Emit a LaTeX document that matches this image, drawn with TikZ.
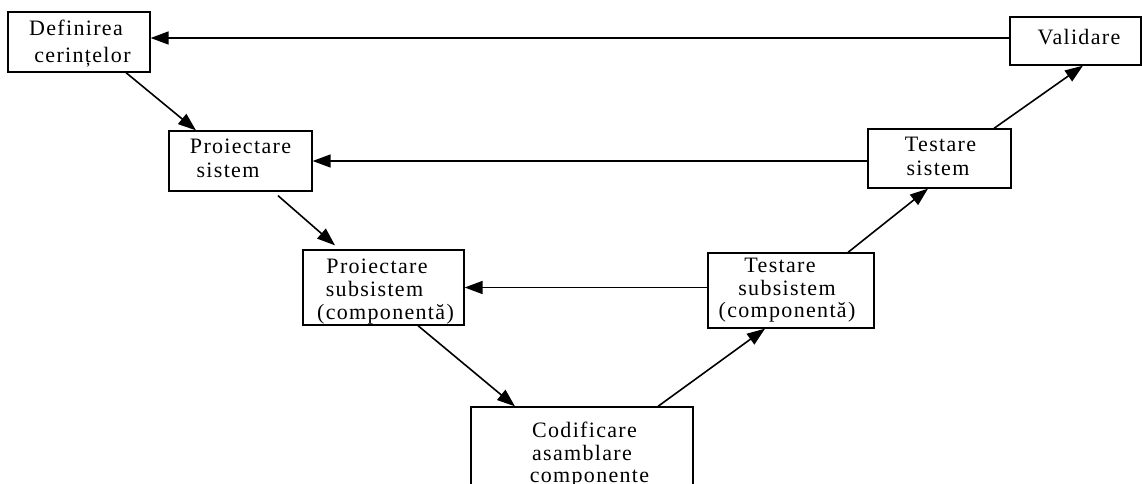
\documentclass[tikz,border=0pt]{standalone}
\usepackage{fontspec}
\setmainfont{Liberation Serif}[LetterSpace=6]
\usetikzlibrary{arrows.meta}
\begin{document}
\begin{tikzpicture}[x=1pt,y=-1pt,
  stage/.style={draw,line width=1.3pt,rectangle,inner sep=0pt},
  txt/.style={anchor=base,inner sep=0pt,font=\fontsize{22}{24}\selectfont},
  arr/.style={line width=1.6pt,-{Triangle[length=18pt,width=13pt]}}]
\useasboundingbox (0,0) rectangle (1142,484);
\clip (0,0) rectangle (1142,484);
% frames of the stages
\node[stage,minimum width=142pt,minimum height=60pt] (defin) at (79,42) {};
\node[stage,minimum width=131pt,minimum height=48pt] (valid) at (1075.5,41) {};
\node[stage,minimum width=143pt,minimum height=60pt] (psys) at (240.5,161) {};
\node[stage,minimum width=143pt,minimum height=59pt] (tsys) at (939.5,158.5) {};
\node[stage,minimum width=161pt,minimum height=75pt] (psub) at (383.5,287.5) {};
\node[stage,minimum width=166pt,minimum height=75pt] (tsub) at (791,290.5) {};
\node[stage,minimum width=222pt,minimum height=98pt] (codif) at (582,456) {};
% stage names, one line at a time
\node[txt] (defin-1) at (76,36) {Definirea};
\node[txt] (defin-2) at (82.5,63) {cerințelor};
\node[txt] (valid-1) at (1079,45) {Validare};
\node[txt] (psys-1) at (240.5,153) {Proiectare};
\node[txt] (psys-2) at (228,177) {sistem};
\node[txt] (tsys-1) at (940.5,151) {Testare};
\node[txt] (tsys-2) at (938,175) {sistem};
\node[txt] (psub-1) at (377,273) {Proiectare};
\node[txt] (psub-2) at (374.5,296) {subsistem};
\node[txt] (psub-3) at (385.5,319) {(componentă)};
\node[txt] (tsub-1) at (780,272) {Testare};
\node[txt] (tsub-2) at (787,295) {subsistem};
\node[txt] (tsub-3) at (787,317) {(componentă)};
\node[txt] (codif-1) at (584.5,437) {Codificare};
\node[txt] (codif-2) at (582,460) {asamblare};
\node[txt] (codif-3) at (589.5,482) {componente};
% descending branch
\draw[arr] ([xshift=47pt]defin.south) -- ([xshift=-44.5pt]psys.north);
\draw[arr] ([xshift=37.5pt,yshift=-4pt]psys.south) -- ([xshift=-48.5pt,yshift=4pt]psub.north);
\draw[arr] ([xshift=34.5pt]psub.south) -- ([xshift=-67pt]codif.north);
% ascending branch
\draw[arr] ([xshift=76pt]codif.north) -- ([xshift=-26pt]tsub.south);
\draw[arr] ([xshift=57pt]tsub.north) -- ([xshift=-11.5pt]tsys.south);
\draw[arr] ([xshift=54.5pt]tsys.north) -- ([xshift=7.5pt]valid.south);
% feedback links
\draw[arr] ([yshift=3pt]valid.west) -- ([yshift=3pt]valid.west -| defin.east);
\draw[arr] (tsys.west |- psys.east) -- (psys.east);
\draw[arr] (tsub.west |- psub.east) -- (psub.east);
\end{tikzpicture}
\end{document}
